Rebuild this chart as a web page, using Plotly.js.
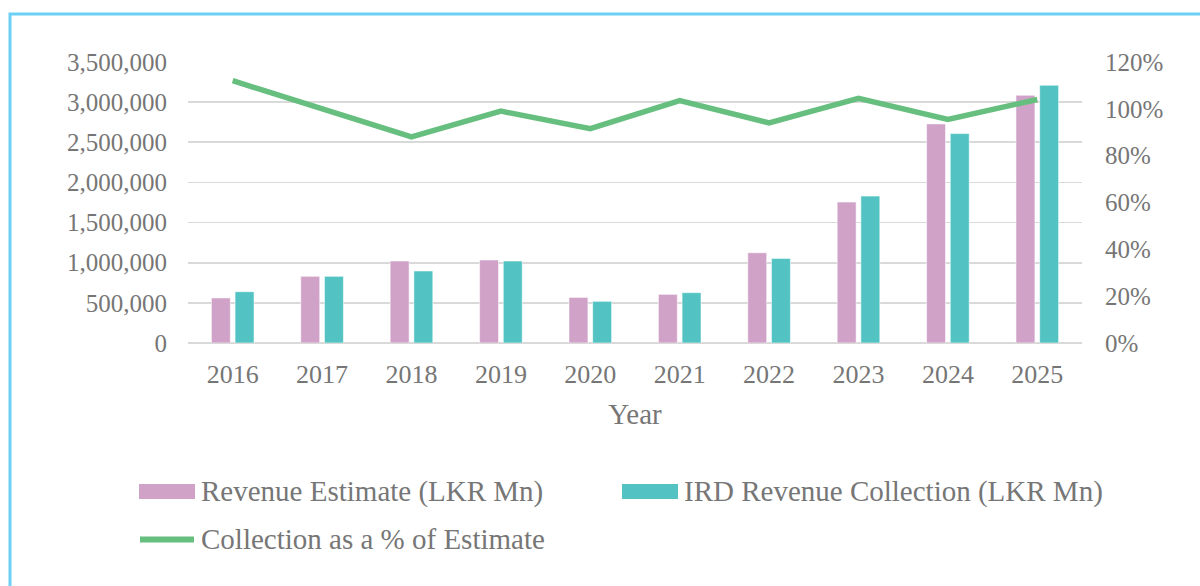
<!DOCTYPE html>
<html>
<head>
<meta charset="utf-8">
<script src="https://cdn.plot.ly/plotly-3.0.1.min.js"></script>
<style>
html,body{margin:0;padding:0;background:#fff;}
#chart{width:1200px;height:586px;}
</style>
</head>
<body>
<div id="chart"></div>
<script>
// ---- data ----
const years = ['2016','2017','2018','2019','2020','2021','2022','2023','2024','2025'];
const revenueEstimate = [561000, 830000, 1021000, 1034000, 568000, 606000, 1124000, 1755000, 2729000, 3086000];
const irdCollection   = [639000, 830000, 897000, 1021000, 519000, 627000, 1054000, 1830000, 2608000, 3210000];
const collectionPct   = [1.12, 1.00, 0.88, 0.99, 0.915, 1.035, 0.94, 1.045, 0.955, 1.04];
const seriesNames = ['Revenue Estimate (LKR Mn)', 'IRD Revenue Collection (LKR Mn)', 'Collection as a % of Estimate'];
const leftTicks = [0, 500000, 1000000, 1500000, 2000000, 2500000, 3000000, 3500000];
const rightTicks = [0, 0.2, 0.4, 0.6, 0.8, 1.0, 1.2];

// ---- style ----
const PINK = '#D0A2C8', TEAL = '#52C3C2', GREEN = '#66BF7E';
const FONT = 'Liberation Serif, Times New Roman, serif';
const GREY = '#767676';
const W = 1200, H = 586;
const M = {l:188, r:118, t:62, b:243};
const PW = W - M.l - M.r, PH = H - M.t - M.b;
const px = x => (x - M.l) / PW;
const py = y => (H - M.b - y) / PH;

const traces = [
  {type:'bar', name:seriesNames[0], x:years, y:revenueEstimate,
   marker:{color:PINK, line:{color:'rgba(255,255,255,0.55)', width:1}}, showlegend:false, hoverinfo:'x+y'},
  {type:'bar', name:seriesNames[1], x:years, y:irdCollection,
   marker:{color:TEAL, line:{color:'rgba(255,255,255,0.55)', width:1}}, showlegend:false, hoverinfo:'x+y'},
  {type:'scatter', mode:'lines', name:seriesNames[2], x:years, y:collectionPct, yaxis:'y2',
   line:{color:GREEN, width:5.5}, showlegend:false}
];

const shapes = [
  // outer frame
  {type:'rect', xref:'paper', yref:'paper', x0:px(10), x1:px(1230), y0:py(14), y1:py(620),
   line:{color:'#6DCFF6', width:3}, fillcolor:'rgba(0,0,0,0)', layer:'below'},
  // legend swatches
  {type:'rect', xref:'paper', yref:'paper', x0:px(139), x1:px(195), y0:py(499), y1:py(484),
   line:{width:0}, fillcolor:PINK},
  {type:'rect', xref:'paper', yref:'paper', x0:px(622), x1:px(678), y0:py(499), y1:py(484),
   line:{width:0}, fillcolor:TEAL},
  {type:'line', xref:'paper', yref:'paper', x0:px(140), x1:px(194), y0:py(539.5), y1:py(539.5),
   line:{color:GREEN, width:6}}
];

const legFont = {family:FONT, size:29, color:GREY};
const annotations = [
  {xref:'paper', yref:'paper', x:px(199), y:py(491), xanchor:'left', yanchor:'middle', showarrow:false, text:seriesNames[0], font:legFont},
  {xref:'paper', yref:'paper', x:px(682), y:py(491), xanchor:'left', yanchor:'middle', showarrow:false, text:seriesNames[1], font:legFont},
  {xref:'paper', yref:'paper', x:px(199), y:py(539), xanchor:'left', yanchor:'middle', showarrow:false, text:seriesNames[2], font:legFont}
];

const layout = {
  width:W, height:H,
  margin:M,
  paper_bgcolor:'#fff', plot_bgcolor:'#fff',
  font:{family:FONT, color:GREY},
  barmode:'group', bargap:0.47, bargroupgap:0.2,
  showlegend:false,
  xaxis:{type:'category', showgrid:false, showline:false, zeroline:false, ticks:'',
         tickfont:{family:FONT, size:26, color:GREY}, ticklabelstandoff:13,
         title:{text:'Year', font:{family:FONT, size:29, color:GREY}, standoff:15}},
  yaxis:{range:[0,3500000], tickvals:leftTicks, tickformat:',d', showgrid:true, gridcolor:'#D9D9D9', gridwidth:1.6,
         zeroline:true, zerolinecolor:'#D9D9D9', zerolinewidth:1.6, showline:false, ticks:'',
         tickfont:{family:FONT, size:25, color:GREY}, ticklabelstandoff:20},
  yaxis2:{range:[0,1.2], tickvals:rightTicks, tickformat:'.0%', overlaying:'y', side:'right', showgrid:false,
          zeroline:false, showline:false, ticks:'',
          tickfont:{family:FONT, size:25, color:GREY}, ticklabelstandoff:22},
  shapes:shapes,
  annotations:annotations
};

Plotly.newPlot('chart', traces, layout, {displayModeBar:false, staticPlot:true});
</script>
</body>
</html>
